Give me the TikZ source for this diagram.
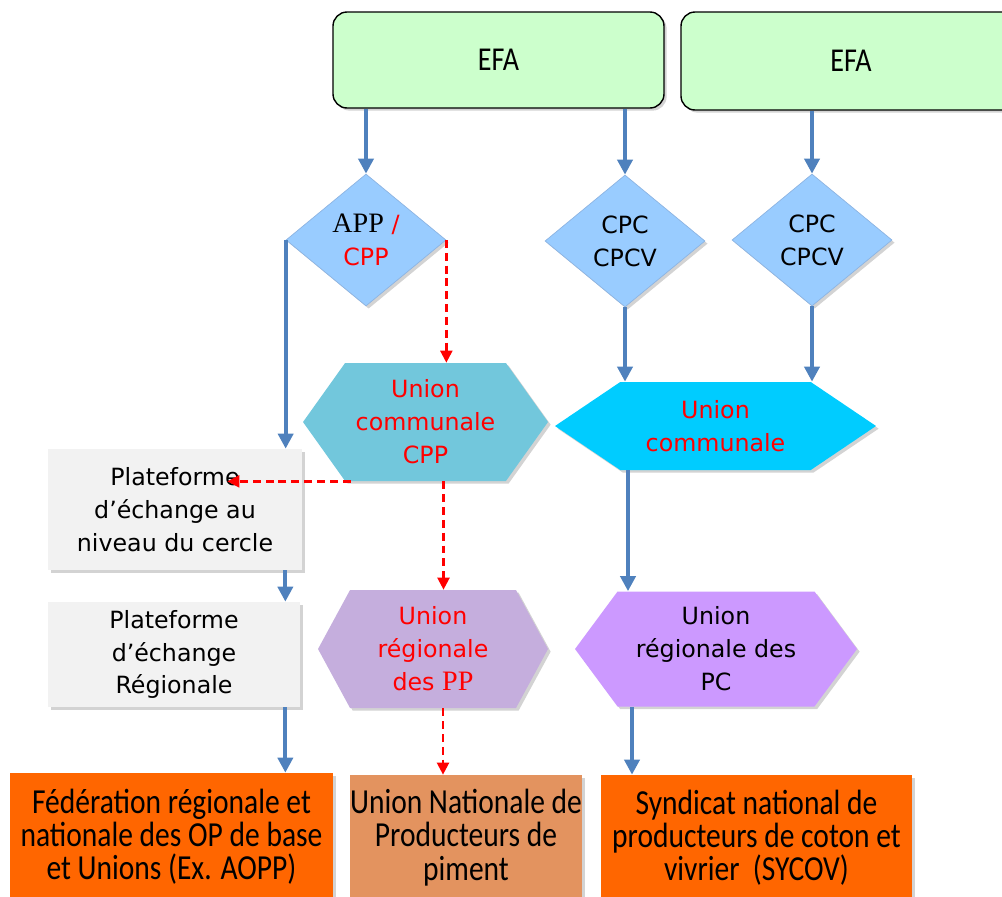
\documentclass[tikz,border=0pt]{standalone}
\usepackage{fontspec}
\setmainfont{DejaVu Sans}
\newfontfamily\condfont[FakeStretch=0.84]{Carlito}
\newfontfamily\serfont{Liberation Serif}
\usetikzlibrary{arrows.meta,positioning,calc,shapes.geometric,shapes.symbols,shadows}
\definecolor{efagreen}{HTML}{CCFFCC}
\definecolor{diablue}{HTML}{99CCFF}
\definecolor{diaedge}{HTML}{8DB4E2}
\definecolor{ucblue}{HTML}{72C7DC}
\definecolor{uccyan}{HTML}{00CCFF}
\definecolor{urppviolet}{HTML}{C5AEDD}
\definecolor{urpcviolet}{HTML}{CC99FF}
\definecolor{platgray}{HTML}{F2F2F2}
\definecolor{fedorange}{HTML}{FF6600}
\definecolor{untan}{HTML}{E3935F}
\definecolor{arrblue}{HTML}{4F81BD}
\newcommand{\ser}[1]{{\serfont\fontsize{16}{18.7}\selectfont #1}}

\begin{document}
\begin{tikzpicture}[>=Triangle,
  sh/.style={drop shadow={shadow xshift=1.5pt,shadow yshift=-1.5pt,opacity=0.35}},
  txt/.style={font=\fontsize{13.5}{18.7}\selectfont,align=center},
  efa/.style={sh,draw=black,thick,fill=efagreen,rounded corners=8pt,minimum width=6.62cm,
              minimum height=1.92cm,font=\condfont\fontsize{19}{22}\selectfont},
  dia/.style={diamond,sh,txt,draw=diaedge,fill=diablue,inner sep=0pt,
              minimum width=3.2cm,minimum height=2.64cm},
  hexa/.style={signal,signal to=west and east,sh,txt,inner sep=0pt},
  plat/.style={sh,txt,fill=platgray,minimum width=5.08cm,minimum height=2.42cm},
  nat/.style={sh,fill=fedorange,align=center,inner xsep=0pt,minimum width=6.46cm,
              minimum height=2.54cm,font=\condfont\fontsize{20}{18.9}\selectfont},
  ba/.style={-{Triangle[length=3mm,width=3mm]},arrblue,line width=2.4pt},
  ra/.style={-{Triangle[length=2.4mm,width=2.4mm]},red,line width=1.3pt,
             dash pattern=on 4.5pt off 2.8pt}]
\useasboundingbox (0,0) rectangle (20.04,-17.92);
% top level
\node[efa] (efa1) at (9.97,-1.2) {EFA};
\node[efa,minimum width=6.8cm,minimum height=1.96cm] (efa2) at (17.02,-1.22) {EFA};
% diamonds
\node[dia] (app)  at (7.32,-4.8)  {\ser{APP} \textcolor{red}{/}\\\textcolor{red}{CPP}};
\node[dia] (cpc1) at (12.5,-4.82) {CPC\\CPCV};
\node[dia] (cpc2) at (16.24,-4.8) {CPC\\CPCV};
% communal unions
\node[hexa,fill=ucblue,text=red,signal pointer angle=109,minimum width=4.9cm,
      minimum height=2.36cm] (uccpp) at (8.51,-8.44) {Union\\communale\\CPP};
\node[hexa,fill=uccyan,text=red,signal pointer angle=68,minimum width=6.42cm,
      minimum height=1.76cm] (ucr) at (14.31,-8.52) {Union\\communale};
% platforms
\node[plat] (plat1) at (3.5,-10.19) {Plateforme\\d’échange au\\niveau du cercle};
\node[plat,minimum width=5.04cm,minimum height=2.1cm] (plat2) at (3.48,-13.09)
  {Plateforme\\d’échange\\Régionale};
% regional unions
\node[hexa,fill=urppviolet,text=red,signal pointer angle=123,minimum width=4.6cm,
      minimum height=2.36cm] (urpp) at (8.66,-12.98) {Union\\régionale\\des \ser{PP}};
\node[hexa,fill=urpcviolet,signal pointer angle=107,minimum width=5.64cm,
      minimum height=2.3cm] (urpc) at (14.32,-12.98) {Union\\régionale des\\PC};
% national level
\node[nat] (fed) at (3.43,-16.73)
  {Fédération régionale et\\nationale des OP de base\\et Unions (Ex. AOPP)};
\node[nat,fill=untan,minimum width=4.64cm,minimum height=2.5cm] (un) at (9.32,-16.75)
  {Union Nationale de\\Producteurs de\\piment};
\node[nat,minimum width=6.22cm,minimum height=2.5cm] (syn) at (15.13,-16.75)
  {Syndicat national de\\producteurs de coton et\\vivrier~~(SYCOV)};
% blue links
\draw[ba] (app.north |- efa1.south) -- (app.north);
\draw[ba] (cpc1.north |- efa1.south) -- (cpc1.north);
\draw[ba] (cpc2.north |- efa2.south) -- (cpc2.north);
\draw[ba] (app.west) -- (app.west |- plat1.north);
\draw[ba] (cpc1.south) -- (cpc1.south |- ucr.north);
\draw[ba] (cpc2.south) -- (cpc2.south |- ucr.north);
\draw[ba] ([xshift=-1.75cm]ucr.south) -- ([xshift=-1.75cm]ucr.south |- urpc.north);
\draw[ba] ([xshift=-0.34cm]plat1.south east) -- ([xshift=-0.34cm]plat1.south east |- plat2.north);
\draw[ba] ([xshift=-0.3cm]plat2.south east) -- ([xshift=-0.3cm]plat2.south east |- fed.north);
\draw[ba] ([xshift=-1.68cm]urpc.south) -- ([xshift=-1.68cm]urpc.south |- syn.north);
% red dashed links
\draw[ra] (app.east) -- (app.east |- uccpp.north);
\draw[ra] ([xshift=-1.5cm]uccpp.south) -- ([xshift=-1.5cm]uccpp.south -| plat1.east);
\draw[ra] ([xshift=0.36cm]uccpp.south) -- ([xshift=0.36cm]uccpp.south |- urpp.north);
\draw[ra] ([xshift=0.2cm]urpp.south) -- ([xshift=0.2cm]urpp.south |- un.north);
\end{tikzpicture}
\end{document}
